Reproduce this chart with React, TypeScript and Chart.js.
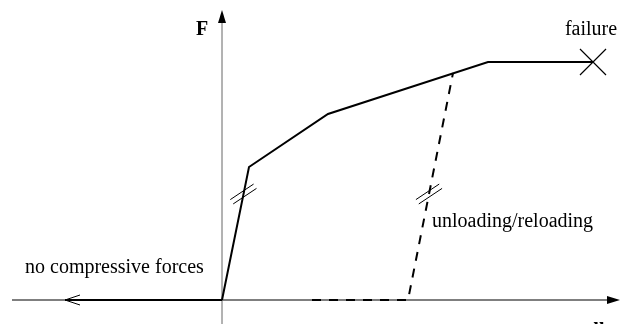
import React, { useEffect, useRef } from "react";
import { Chart, registerables } from "chart.js";

Chart.register(...registerables);

// Load-displacement law (u = displacement, F = force), arbitrary units
const uMain = [0, 1.35, 5.3, 13.3, 18.55];
const fMain = [0, 6.65, 9.3, 11.9, 11.9];

const uNoCompression = [0, -7.85];
const fNoCompression = [0, 0];

const uUnload = [4.5, 9.3, 11.55];
const fUnload = [0, 0, 11.35];

const uFailure = [18.55];
const fFailure = [11.9];

// stiffness markers (double hash) on the elastic branches
const uHash = [1.07, 10.35];
const fHash = [5.3, 5.3];

// axis extents
const uAxisMin = -10.5;
const uAxisMax = 19.9;
const fAxisMin = -1.2;
const fAxisMax = 14.5;

// text annotations
const labelTexts = ["F", "failure", "unloading/reloading", "no compressive forces", "u"];
const labelU = [-1.0, 18.45, 10.5, -9.85, 18.85];
const labelF = [13.5, 13.5, 3.9, 1.6, -1.35];
const labelAlign: CanvasTextAlign[] = ["center", "center", "left", "left", "center"];
const labelBold = [true, false, false, false, true];

const overlay = {
  id: "overlay",
  beforeDatasetsDraw(chart: any) {
    const { ctx, scales } = chart;
    const x = scales.x;
    const y = scales.y;
    const x0 = x.getPixelForValue(0);
    const y0 = y.getPixelForValue(0);
    const xL = x.getPixelForValue(uAxisMin);
    const xR = x.getPixelForValue(uAxisMax);
    const yT = y.getPixelForValue(fAxisMax);
    const yB = y.getPixelForValue(fAxisMin) + 10;
    ctx.save();
    // horizontal axis
    ctx.strokeStyle = "#000";
    ctx.lineWidth = 1.2;
    ctx.beginPath();
    ctx.moveTo(xL, y0);
    ctx.lineTo(xR - 8, y0);
    ctx.stroke();
    ctx.fillStyle = "#000";
    ctx.beginPath();
    ctx.moveTo(xR, y0);
    ctx.lineTo(xR - 13, y0 - 4);
    ctx.lineTo(xR - 13, y0 + 4);
    ctx.closePath();
    ctx.fill();
    // vertical axis
    ctx.strokeStyle = "#666";
    ctx.lineWidth = 1;
    ctx.beginPath();
    ctx.moveTo(x0, yB);
    ctx.lineTo(x0, yT + 8);
    ctx.stroke();
    ctx.fillStyle = "#000";
    ctx.beginPath();
    ctx.moveTo(x0, yT);
    ctx.lineTo(x0 - 4, yT + 13);
    ctx.lineTo(x0 + 4, yT + 13);
    ctx.closePath();
    ctx.fill();
    ctx.restore();
  },
  afterDatasetsDraw(chart: any) {
    const { ctx, scales } = chart;
    const x = scales.x;
    const y = scales.y;
    ctx.save();
    // open arrow head at the end of the "no compression" branch
    const ax = x.getPixelForValue(uNoCompression[1]);
    const ay = y.getPixelForValue(fNoCompression[1]);
    ctx.strokeStyle = "#000";
    ctx.lineWidth = 1;
    ctx.beginPath();
    ctx.moveTo(ax + 15, ay - 5);
    ctx.lineTo(ax, ay);
    ctx.lineTo(ax + 15, ay + 5);
    ctx.stroke();
    // double hash marks
    const dir = { x: 0.832, y: -0.555 };
    const perp = { x: 0.555, y: 0.832 };
    for (let i = 0; i < uHash.length; i++) {
      const cx = x.getPixelForValue(uHash[i]);
      const cy = y.getPixelForValue(fHash[i]);
      for (const s of [-2.6, 2.6]) {
        const ox = cx + perp.x * s;
        const oy = cy + perp.y * s;
        ctx.beginPath();
        ctx.moveTo(ox - dir.x * 14, oy - dir.y * 14);
        ctx.lineTo(ox + dir.x * 14, oy + dir.y * 14);
        ctx.stroke();
      }
    }
    // labels
    ctx.fillStyle = "#000";
    ctx.textBaseline = "middle";
    for (let i = 0; i < labelTexts.length; i++) {
      ctx.font = (labelBold[i] ? "bold " : "") + "20px 'Liberation Serif', 'DejaVu Serif', serif";
      ctx.textAlign = labelAlign[i];
      ctx.fillText(labelTexts[i], x.getPixelForValue(labelU[i]), y.getPixelForValue(labelF[i]));
    }
    ctx.restore();
  },
};

const toPoints = (us: number[], fs: number[]) => us.map((u, i) => ({ x: u, y: fs[i] }));

export default function App() {
  const ref = useRef<HTMLCanvasElement | null>(null);
  useEffect(() => {
    if (!ref.current) return;
    const chart = new Chart(ref.current, {
      type: "scatter",
      data: {
        datasets: [
          {
            data: toPoints(uMain, fMain),
            showLine: true,
            borderColor: "#000",
            borderWidth: 2,
            pointRadius: 0,
            fill: false,
          },
          {
            data: toPoints(uNoCompression, fNoCompression),
            showLine: true,
            borderColor: "#000",
            borderWidth: 2.2,
            pointRadius: 0,
          },
          {
            data: toPoints(uUnload, fUnload),
            showLine: true,
            borderColor: "#000",
            borderWidth: 2,
            borderDash: [9, 8],
            pointRadius: 0,
          },
          {
            data: toPoints(uFailure, fFailure),
            showLine: false,
            pointStyle: "crossRot",
            pointRadius: 18.4,
            pointBorderColor: "#000",
            pointBorderWidth: 1.2,
            pointBackgroundColor: "#000",
          },
        ],
      },
      options: {
        responsive: false,
        animation: false,
        devicePixelRatio: 1,
        events: [],
        layout: { padding: 0, autoPadding: false },
        plugins: { legend: { display: false }, tooltip: { enabled: false } },
        scales: {
          x: { type: "linear", display: false, min: -11.1, max: 19.95 },
          y: { type: "linear", display: false, min: -1.2, max: 15 },
        },
      },
      plugins: [overlay],
    });
    return () => chart.destroy();
  }, []);
  return (
    <div style={{ position: "fixed", left: 0, top: 0, width: 621, height: 324, background: "#fff" }}>
      <canvas ref={ref} width={621} height={324} style={{ width: 621, height: 324, display: "block" }} />
    </div>
  );
}
